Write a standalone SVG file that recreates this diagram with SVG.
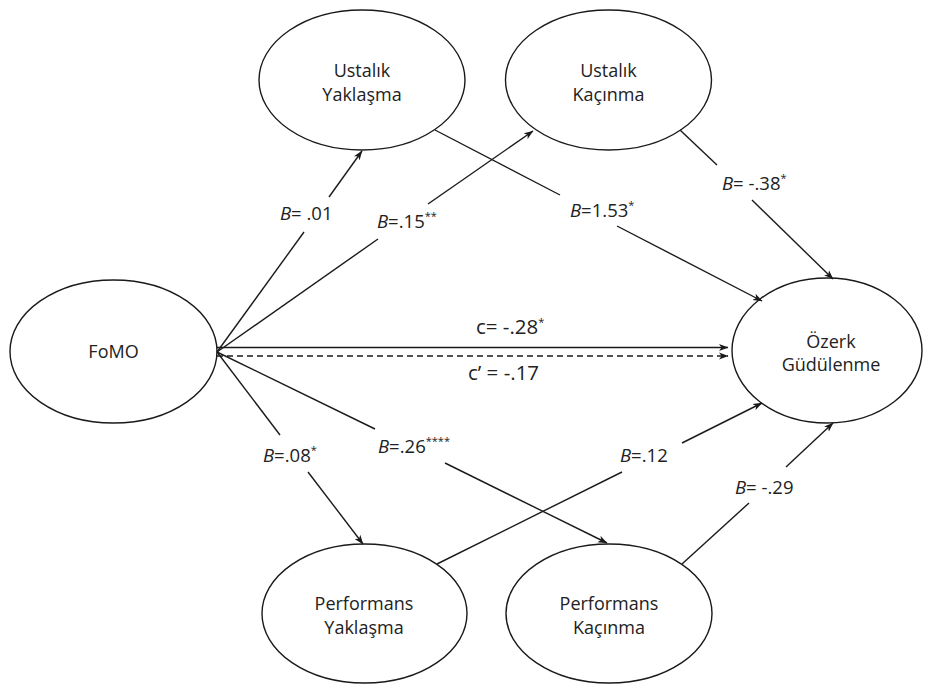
<svg xmlns="http://www.w3.org/2000/svg" width="925" height="686" viewBox="0 0 925 686">
<style>
.node ellipse{fill:#fff;stroke:#1a1a1a;stroke-width:1.4}
.node text{font-family:"Open Sans","Liberation Sans",sans-serif;font-size:18px;fill:#222;text-anchor:middle}
.edge line{stroke:#1a1a1a;stroke-width:1.4;fill:none}
.arr{marker-end:url(#ah)}
.dash{stroke-dasharray:6 4}
.lbl{font-family:"Open Sans","Liberation Sans",sans-serif;font-size:18.5px;fill:#222}
.big{font-size:20.5px}
.it{font-style:italic}
.sup{font-size:11px}
</style>
<defs>
<marker id="ah" markerWidth="10" markerHeight="8" refX="9" refY="4" orient="auto" markerUnits="userSpaceOnUse">
<path d="M0,0.5 L9.5,4 L0,7.5 L2.5,4 Z" fill="#1a1a1a"/>
</marker>
</defs>
<rect width="925" height="686" fill="#fff"/>

<g id="nodes">
<g id="fomo" class="node"><ellipse cx="113.5" cy="351.5" rx="103.5" ry="71.5"/><text x="113.5" y="358">FoMO</text></g>
<g id="ustalik-yaklasma" class="node"><ellipse cx="362" cy="80" rx="103" ry="70"/><text x="362" y="77">Ustalık</text><text x="362" y="101">Yaklaşma</text></g>
<g id="ustalik-kacinma" class="node"><ellipse cx="608.5" cy="80" rx="103" ry="70"/><text x="608.5" y="77">Ustalık</text><text x="608.5" y="101">Kaçınma</text></g>
<g id="ozerk" class="node"><ellipse cx="827" cy="350.5" rx="95" ry="72.5"/><text x="831" y="348">Özerk</text><text x="831" y="371">Güdülenme</text></g>
<g id="performans-yaklasma" class="node"><ellipse cx="364.5" cy="613.5" rx="102.5" ry="69.5"/><text x="364" y="610">Performans</text><text x="364" y="634">Yaklaşma</text></g>
<g id="performans-kacinma" class="node"><ellipse cx="609" cy="613.5" rx="103" ry="69.5"/><text x="609" y="610">Performans</text><text x="609" y="634">Kaçınma</text></g>
</g>

<g id="connectors" class="edge">
<line x1="217" y1="352" x2="304" y2="232"/>
<line x1="329" y1="197" x2="362" y2="151" class="arr"/>
<line x1="217" y1="352" x2="378" y2="239"/>
<line x1="428" y1="204" x2="533" y2="131" class="arr"/>
<line x1="435" y1="130" x2="560" y2="195"/>
<line x1="617" y1="226" x2="762" y2="301" class="arr"/>
<line x1="680" y1="130" x2="717" y2="165"/>
<line x1="752" y1="200" x2="833" y2="279" class="arr"/>
<line x1="217" y1="347.5" x2="728" y2="347.5" class="arr"/>
<line x1="217" y1="356" x2="728" y2="356" class="arr dash"/>
<line x1="217" y1="352" x2="280" y2="435"/>
<line x1="308" y1="472" x2="363" y2="544" class="arr"/>
<line x1="217" y1="352" x2="375" y2="429"/>
<line x1="445" y1="463" x2="607" y2="543" class="arr"/>
<line x1="437" y1="564" x2="622" y2="472"/>
<line x1="682" y1="443" x2="762" y2="403" class="arr"/>
<line x1="682" y1="564" x2="749" y2="503"/>
<line x1="786" y1="467" x2="833" y2="423" class="arr"/>
</g>

<g id="labels">
<text class="lbl" x="280" y="220"><tspan class="it">B</tspan>= .01</text>
<text class="lbl" x="377" y="228"><tspan class="it">B</tspan>=.15<tspan class="sup" dy="-8">**</tspan></text>
<text class="lbl" x="570" y="217"><tspan class="it">B</tspan>=1.53<tspan class="sup" dy="-8">*</tspan></text>
<text class="lbl" x="722" y="190"><tspan class="it">B</tspan>= -.38<tspan class="sup" dy="-8">*</tspan></text>
<text class="lbl big" x="476" y="334">c= -.28<tspan class="sup" dy="-8">*</tspan></text>
<text class="lbl big" x="468" y="380">c’ = -.17</text>
<text class="lbl" x="263" y="462"><tspan class="it">B</tspan>=.08<tspan class="sup" dy="-8">*</tspan></text>
<text class="lbl" x="378" y="453"><tspan class="it">B</tspan>=.26<tspan class="sup" dy="-8">****</tspan></text>
<text class="lbl" x="620" y="462"><tspan class="it">B</tspan>=.12</text>
<text class="lbl" x="735" y="494"><tspan class="it">B</tspan>= -.29</text>
</g>
</svg>
